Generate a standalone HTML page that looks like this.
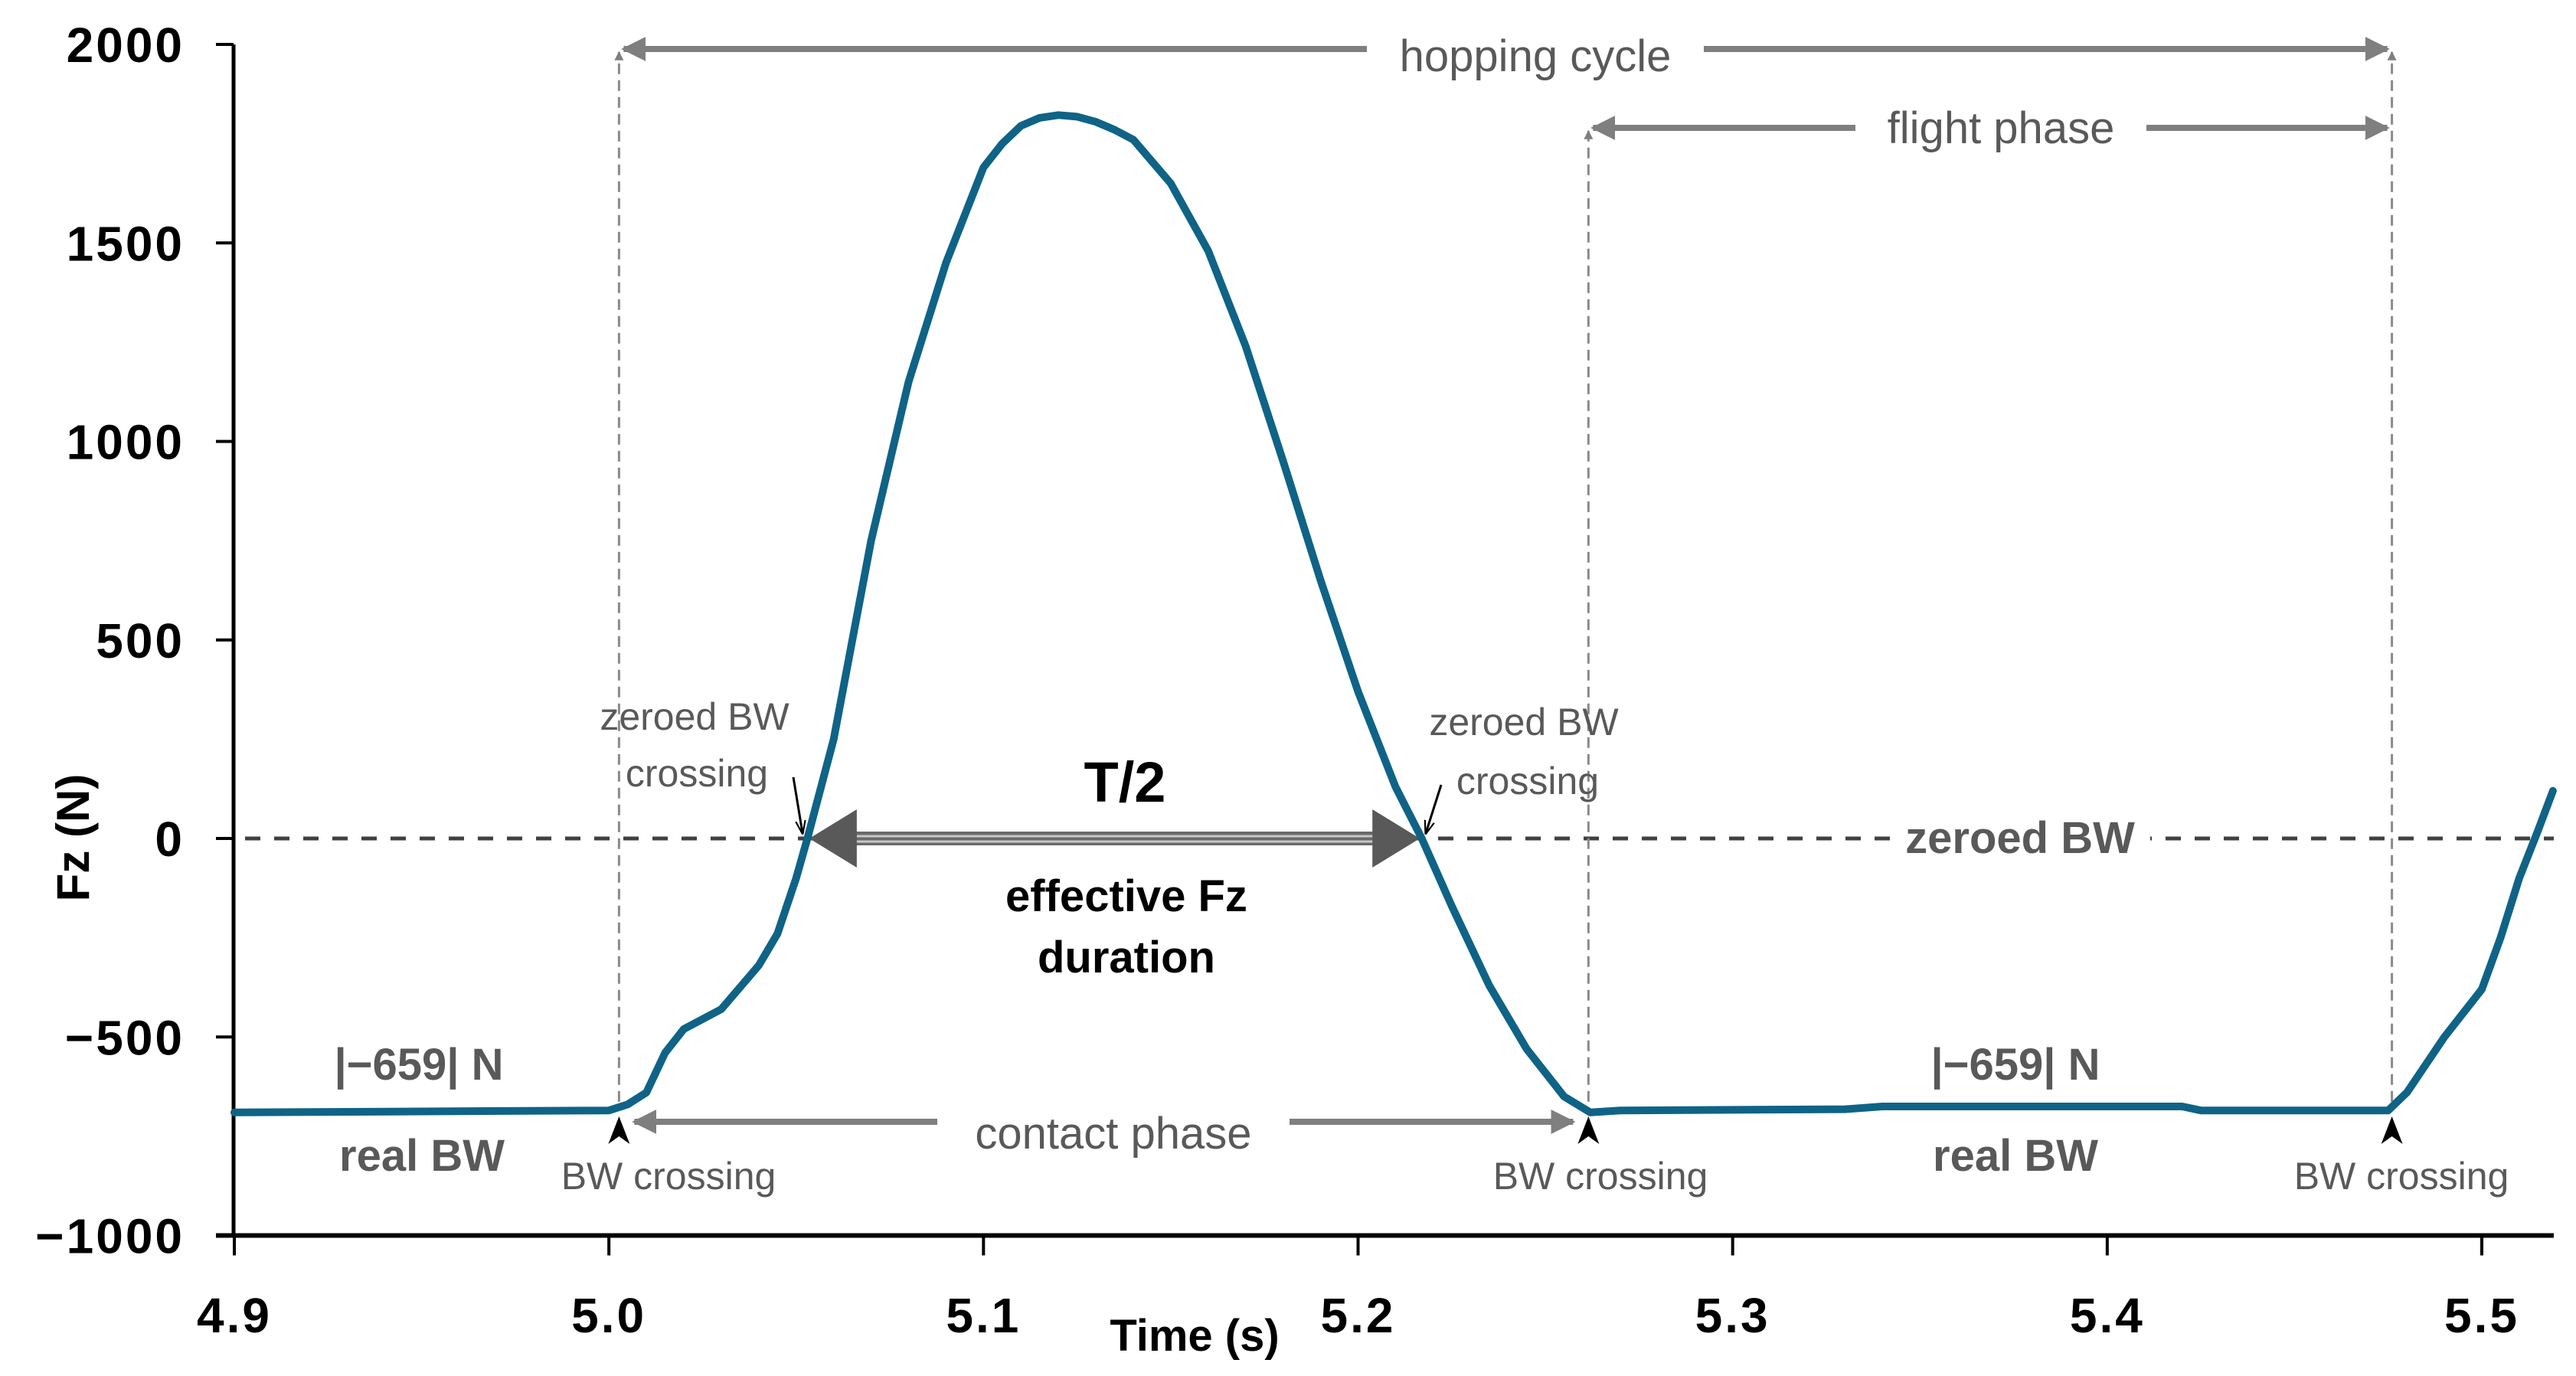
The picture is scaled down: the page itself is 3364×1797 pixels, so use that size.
<!DOCTYPE html>
<html><head><meta charset="utf-8"><style>
html,body{margin:0;padding:0;background:#fff;}
svg{display:block;font-family:"Liberation Sans",sans-serif;}
</style></head><body>
<svg id="chart" width="3364" height="1797" viewBox="0 0 3364 1797" xmlns="http://www.w3.org/2000/svg">
<defs>
<marker id="ah" viewBox="0 0 10 10" refX="9" refY="5" markerWidth="4" markerHeight="4" orient="auto-start-reverse"><path d="M0,0L10,5L0,10z" fill="#7f7f7f"/></marker>
<marker id="ab" viewBox="0 0 10 10" refX="9" refY="5" markerWidth="6" markerHeight="6" orient="auto"><path d="M0,1.5L10,5L0,8.5" fill="none" stroke="#000" stroke-width="1.2"/></marker>
</defs>
<g id="axes"></g>
<g id="annot"></g>
<g id="series"></g>
<g id="labels"></g>
</svg>
<script>
const times=[4.90,5.00,5.005,5.010,5.015,5.02,5.03,5.04,5.045,5.05,5.053,5.06,5.065,5.07,5.08,5.09,5.10,5.105,5.11,5.115,5.12,5.125,5.13,5.135,5.14,5.15,5.16,5.17,5.18,5.19,5.20,5.21,5.217,5.225,5.235,5.245,5.255,5.262,5.27,5.33,5.34,5.42,5.425,5.475,5.48,5.49,5.50,5.505,5.51,5.515,5.519];
const forces=[-690,-685,-670,-640,-540,-480,-430,-320,-240,-100,0,250,500,750,1150,1450,1690,1750,1795,1815,1822,1818,1805,1785,1760,1650,1480,1240,950,650,370,130,0,-170,-370,-530,-650,-690,-685,-682,-675,-675,-685,-685,-640,-500,-380,-250,-100,20,120];
const yTicks=[2000,1500,1000,500,0,-500,-1000];
const yTickLabels=["2000","1500","1000","500","0","\u2212500","\u22121000"];
const xTicks=[4.9,5.0,5.1,5.2,5.3,5.4,5.5];
const xTickLabels=["4.9","5.0","5.1","5.2","5.3","5.4","5.5"];
const markTimes=[5.0027,5.2615,5.476];

const NS="http://www.w3.org/2000/svg";
const X=t=>306+(t-4.9)*(3241-306)/0.6;
const Y=v=>1095-v*(1095-58)/2000;
function mk(parent,tag,attrs,text){const e=document.createElementNS(NS,tag);for(const k in attrs)e.setAttribute(k,attrs[k]);if(text!==undefined)e.textContent=text;parent.appendChild(e);return e;}
const axes=document.getElementById('axes'),annot=document.getElementById('annot'),series=document.getElementById('series'),labels=document.getElementById('labels');

let e=mk(axes,'line',{x1:305,y1:Y(2000),x2:305,y2:Y(-1000)+2,stroke:'#000','stroke-width':5});

e=mk(axes,'line',{x1:282,y1:Y(-1000),x2:3335,y2:Y(-1000),stroke:'#000','stroke-width':6});

yTicks.forEach((v,i)=>{
  let t=mk(axes,'line',{x1:282,y1:Y(v),x2:305,y2:Y(v),stroke:'#000','stroke-width':4});
  
  let l=mk(axes,'text',{x:241,y:Y(v)+23,'text-anchor':'end','font-size':64,'font-weight':'bold',fill:'#000','letter-spacing':3},yTickLabels[i]);
  
});
xTicks.forEach((v,i)=>{
  let t=mk(axes,'line',{x1:X(v),y1:Y(-1000),x2:X(v),y2:Y(-1000)+26,stroke:'#000','stroke-width':4});
  
  let l=mk(axes,'text',{x:X(v),y:1740,'text-anchor':'middle','font-size':64,'font-weight':'bold',fill:'#000','letter-spacing':3},xTickLabels[i]);
  
});
e=mk(axes,'text',{x:0,y:0,transform:'translate(116,1094) rotate(-90)','text-anchor':'middle','font-size':60,'font-weight':'bold'},'Fz (N)');

e=mk(axes,'text',{x:1560,y:1764,'text-anchor':'middle','font-size':58,'font-weight':'bold'},'Time (s)');


e=mk(annot,'line',{x1:320,y1:Y(0),x2:3335,y2:Y(0),stroke:'#404040','stroke-width':5,'stroke-dasharray':'20 18'});

const vTop=[64,167,64];
markTimes.forEach((t,i)=>{
  let l=mk(annot,'line',{x1:X(t),y1:Y(-690)-14,x2:X(t),y2:vTop[i]+4,stroke:'#8a8a8a','stroke-width':3,'stroke-dasharray':'14 8','marker-end':'url(#ah)'});
  
});
function harrow(x1,x2,y,name){let l=mk(annot,'line',{x1:x1,y1:y,x2:x2,y2:y,stroke:'#7f7f7f','stroke-width':8,'marker-start':'url(#ah)','marker-end':'url(#ah)'});}
harrow(X(markTimes[0])+6,X(markTimes[2])-6,64,'hopping-cycle-arrow');
harrow(X(markTimes[1])+6,X(markTimes[2])-6,167,'flight-phase-arrow');
harrow(X(markTimes[0])+20,X(markTimes[1])-20,1465,'contact-phase-arrow');
function label(x,y,txt,size,w,fill,name,bg){
  if(bg){let r=mk(annot,'rect',{x:x-bg/2,y:y-size*0.8,width:bg,height:size*1.05,fill:'#fff'});}
  let t=mk(labels,'text',{x:x,y:y,'text-anchor':'middle','font-size':size,'font-weight':w,fill:fill},txt);
  }
label(2005,93,'hopping cycle',58,'normal','#595959','hopping-cycle-label',440);
label(2613,187,'flight phase',58,'normal','#595959','flight-phase-label',380);
label(1454,1500,'contact phase',58,'normal','#595959','contact-phase-label',460);
label(2638,1114,'zeroed BW',58,'bold','#595959','zeroed-bw-label',340);

const t1=5.0535,t2=5.2165;
e=mk(annot,'line',{x1:X(t1)+60,y1:Y(0),x2:X(t2)-60,y2:Y(0),stroke:'#6a6a6a','stroke-width':18});

mk(annot,'line',{x1:X(t1)+60,y1:Y(0)-3,x2:X(t2)-60,y2:Y(0)-3,stroke:'#c8c8c8','stroke-width':3});
mk(annot,'line',{x1:X(t1)+60,y1:Y(0)+4,x2:X(t2)-60,y2:Y(0)+4,stroke:'#c8c8c8','stroke-width':3});
e=mk(annot,'path',{d:`M${X(t1)} ${Y(0)} L${X(t1)+62} ${Y(0)-38} L${X(t1)+62} ${Y(0)+38}Z M${X(t2)} ${Y(0)} L${X(t2)-62} ${Y(0)-38} L${X(t2)-62} ${Y(0)+38}Z`,fill:'#595959'});

label(1469,1047,'T/2',74,'bold','#000','t-half-label');
label(1471,1190,'effective Fz',58,'bold','#000','effective-fz-label');
label(1471,1270,'duration',58,'bold','#000','duration-label');

label(907,953,'zeroed BW',50,'normal','#595959','zeroed-bw-crossing-label-1');
label(910,1027,'crossing',50,'normal','#595959','zeroed-bw-crossing-label-1b');
label(1990,960,'zeroed BW',50,'normal','#595959','zeroed-bw-crossing-label-2');
label(1995,1037,'crossing',50,'normal','#595959','zeroed-bw-crossing-label-2b');
e=mk(annot,'line',{x1:1036,y1:1015,x2:1048,y2:1088,stroke:'#000','stroke-width':3,'marker-end':'url(#ab)'});

e=mk(annot,'line',{x1:1882,y1:1025,x2:1862,y2:1088,stroke:'#000','stroke-width':3,'marker-end':'url(#ab)'});


label(547,1410,'|\u2212659| N',58,'bold','#595959','real-bw-value-1');
label(551,1529,'real BW',58,'bold','#595959','real-bw-label-1');
label(2632,1410,'|\u2212659| N',58,'bold','#595959','real-bw-value-2');
label(2632,1529,'real BW',58,'bold','#595959','real-bw-label-2');
label(873,1553,'BW crossing',50,'normal','#595959','bw-crossing-label-1');
label(2090,1553,'BW crossing',50,'normal','#595959','bw-crossing-label-2');
label(3136,1553,'BW crossing',50,'normal','#595959','bw-crossing-label-3');
markTimes.forEach(t=>{
  let c=mk(annot,'path',{d:`M${X(t)-14} ${1494} L${X(t)} ${1458} L${X(t)+14} ${1494} L${X(t)} ${1484}Z`,fill:'#000'});
  
});

let d='';
times.forEach((t,i)=>{d+=(i?'L':'M')+X(t).toFixed(1)+' '+Y(forces[i]).toFixed(1)+' ';});
e=mk(series,'path',{d:d,fill:'none',stroke:'#0f6386','stroke-width':10,'stroke-linejoin':'round','stroke-linecap':'round'});

</script>
</body></html>
